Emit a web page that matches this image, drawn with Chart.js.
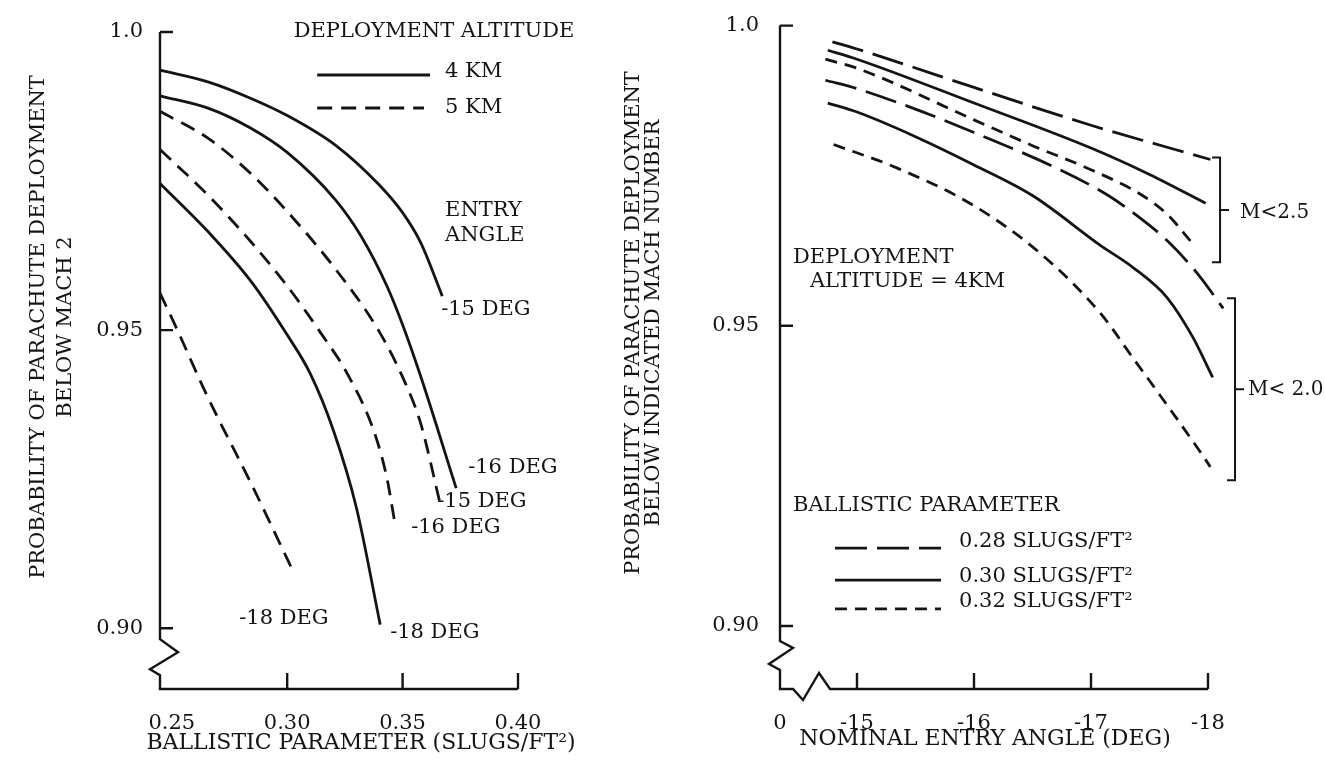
<!DOCTYPE html>
<html>
<head>
<meta charset="utf-8">
<title>Parachute deployment probability</title>
<script src="https://cdn.jsdelivr.net/npm/chart.js"></script>
<style>
  body { margin: 0; background: #fff; }
  canvas { position: absolute; top: 0; }
  #chartLeft { left: 0; }
  #chartRight { left: 600px; }
</style>
</head>
<body>
<canvas id="chartLeft" width="600" height="763"></canvas>
<canvas id="chartRight" width="725" height="763"></canvas>
<script>
// ---- values ----
// left: probability below Mach 2 vs ballistic parameter, [slugs/ft^2, probability]
const km4Deg15 = [[0.2449, 0.9936], [0.2660, 0.9916], [0.2841, 0.9889], [0.30, 0.9860], [0.3210, 0.9810], [0.3395, 0.9745], [0.35, 0.9697], [0.3578, 0.9647], [0.3672, 0.9557]];
const km4Deg16 = [[0.2449, 0.9893], [0.2660, 0.9872], [0.2841, 0.9839], [0.30, 0.9798], [0.3210, 0.9718], [0.3321, 0.9657], [0.3432, 0.9574], [0.35, 0.9509], [0.3578, 0.9423], [0.3732, 0.9235]];
const km4Deg18 = [[0.2449, 0.9746], [0.2660, 0.9664], [0.2841, 0.9583], [0.30, 0.9492], [0.31, 0.9427], [0.32, 0.9332], [0.33, 0.9202], [0.3403, 0.9006]];
const km5Deg15 = [[0.2449, 0.9867], [0.2660, 0.9821], [0.2841, 0.9763], [0.30, 0.9699], [0.3210, 0.9602], [0.3395, 0.9500], [0.3505, 0.9417], [0.3578, 0.9344], [0.3662, 0.9210]];
const km5Deg16 = [[0.2449, 0.9803], [0.2660, 0.9725], [0.2841, 0.9649], [0.30, 0.9574], [0.3137, 0.9500], [0.3266, 0.9423], [0.3377, 0.9329], [0.3432, 0.9252], [0.3464, 0.9182]];
const km5Deg18 = [[0.2449, 0.9562], [0.2528, 0.9497], [0.2580, 0.9452], [0.2636, 0.9404], [0.2697, 0.9355], [0.2841, 0.9245], [0.3020, 0.9100]];

// right: probability below indicated Mach number vs nominal entry angle, [deg, probability]
const m25Bp28 = [[-14.79, 0.9973], [-15, 0.9961], [-16, 0.9897], [-17, 0.9834], [-18.02, 0.9777]];
const m25Bp30 = [[-14.75, 0.9959], [-15, 0.9944], [-16, 0.9871], [-17, 0.9796], [-17.5, 0.9752], [-17.98, 0.9704]];
const m25Bp32 = [[-14.73, 0.9944], [-15, 0.9929], [-16, 0.9843], [-16.5, 0.9800], [-17, 0.9760], [-17.44, 0.9717], [-17.65, 0.9686], [-17.86, 0.9639]];
const m20Bp28 = [[-14.73, 0.9909], [-15, 0.9895], [-16, 0.9822], [-17.08, 0.9725], [-17.39, 0.9684], [-17.65, 0.9642], [-17.91, 0.9587], [-18.13, 0.9529]];
const m20Bp30 = [[-14.75, 0.9871], [-15, 0.9856], [-15.5, 0.9815], [-16, 0.9768], [-16.5, 0.9717], [-17.08, 0.9634], [-17.36, 0.9597], [-17.65, 0.9547], [-17.87, 0.9481], [-18.04, 0.9414]];
const m20Bp32 = [[-14.80, 0.9802], [-15.34, 0.9763], [-16, 0.9700], [-16.57, 0.9620], [-17.08, 0.9521], [-17.36, 0.9446], [-17.65, 0.9368], [-17.93, 0.9291], [-18.02, 0.9265]];

// tick values and labels
const leftXTicks = [0.25, 0.30, 0.35, 0.40];
const leftXLabels = ['0.25', '0.30', '0.35', '0.40'];
const rightXTicks = [-14.342, -15, -16, -17, -18]; // first one is the broken origin, labelled 0
const rightXLabels = ['0', '-15', '-16', '-17', '-18'];
const yTicks = [1.0, 0.95, 0.90];
const yLabels = ['1.0', '0.95', '0.90'];

const INK = '#141414';
const FONT = '"DejaVu Serif", "Liberation Serif", serif';
const DASH_5KM = [15, 9];
const DASH_LONG = [32, 10];
const DASH_SHORT = [12, 8];

function curve(points, dash) {
    return {
        data: points.map(([x, y]) => ({ x, y })),
        borderColor: INK,
        borderWidth: 2.8,
        borderDash: dash || [],
        pointRadius: 0,
        cubicInterpolationMode: 'monotone',
        fill: false,
        clip: false
    };
}

function yScale(min, width, pad) {
    return {
        type: 'linear', position: 'left', min: min, max: 1.0,
        grid: { display: false }, border: { display: false },
        afterBuildTicks: s => { s.ticks = yTicks.map(v => ({ value: v })); },
        afterFit: s => { s.width = width; },
        ticks: { callback: (v, i) => yLabels[i], color: INK, font: { family: FONT, size: 21 }, padding: pad }
    };
}

function xScale(min, max, reverse, ticks, labels) {
    return {
        type: 'linear', min: min, max: max, reverse: reverse,
        grid: { display: false }, border: { display: false },
        afterBuildTicks: s => { s.ticks = ticks.map(v => ({ value: v })); },
        afterFit: s => { s.height = 74; },
        ticks: { callback: (v, i) => labels[i], color: INK, font: { family: FONT, size: 21 }, padding: 14, autoSkip: false, maxRotation: 0 }
    };
}

// axes with break marks, inner ticks, legend samples, brackets and texts
const sketch = {
    id: 'sketch',
    afterDraw(chart, args, o) {
        const { ctx, chartArea: a, scales: { x, y } } = chart;
        const px = v => x.getPixelForValue(v);
        const py = v => y.getPixelForValue(v);
        ctx.save();
        ctx.strokeStyle = INK;
        ctx.fillStyle = INK;
        ctx.lineWidth = 2.4;
        ctx.lineJoin = 'miter';

        const y90 = py(0.90);
        ctx.beginPath();
        ctx.moveTo(a.left, a.top);
        o.yBreak.forEach(([dx, dy]) => ctx.lineTo(a.left + dx, y90 + dy));
        ctx.lineTo(a.left, a.bottom);
        o.xBreak.forEach(([dx, dy]) => ctx.lineTo(a.left + dx, a.bottom + dy));
        ctx.lineTo(a.right, a.bottom);
        yTicks.forEach(v => { ctx.moveTo(a.left, py(v)); ctx.lineTo(a.left + o.yTickLen, py(v)); });
        o.xTicks.forEach(v => { ctx.moveTo(px(v), a.bottom); ctx.lineTo(px(v), a.bottom - 16); });
        ctx.stroke();

        ctx.lineWidth = 2.8;
        o.samples.forEach(s => {
            ctx.beginPath();
            ctx.setLineDash(s.dash);
            ctx.moveTo(px(s.x0), py(s.y));
            ctx.lineTo(px(s.x1), py(s.y));
            ctx.stroke();
        });
        ctx.setLineDash([]);

        ctx.lineWidth = 2;
        (o.brackets || []).forEach(b => {
            const bx = px(b.x), y0 = py(b.y0), y1 = py(b.y1), ym = (y0 + y1) / 2;
            ctx.beginPath();
            ctx.moveTo(bx - 8, y0); ctx.lineTo(bx, y0); ctx.lineTo(bx, y1); ctx.lineTo(bx - 8, y1);
            ctx.moveTo(bx, ym); ctx.lineTo(bx + 9, ym);
            ctx.stroke();
        });

        ctx.textBaseline = 'middle';
        o.notes.forEach(n => {
            ctx.font = (n.size || 21) + 'px ' + FONT;
            ctx.textAlign = 'left';
            ctx.fillText(n.text, px(n.at[0]), py(n.at[1]));
        });

        o.titles.forEach(t => {
            ctx.save();
            ctx.translate(t.x, t.y);
            if (t.rot) ctx.rotate(t.rot);
            ctx.font = t.size + 'px ' + FONT;
            ctx.textAlign = 'center';
            ctx.fillText(t.text, 0, 0);
            ctx.restore();
        });
        ctx.restore();
    }
};

function baseOptions(pad, scales, sketchOpts) {
    return {
        responsive: false,
        animation: false,
        events: [],
        layout: { padding: pad },
        scales: scales,
        plugins: { legend: { display: false }, tooltip: { enabled: false }, sketch: sketchOpts }
    };
}

new Chart(document.getElementById('chartLeft'), {
    type: 'line',
    data: {
        datasets: [
            curve(km4Deg15), curve(km4Deg16), curve(km4Deg18),
            curve(km5Deg15, DASH_5KM), curve(km5Deg16, DASH_5KM), curve(km5Deg18, DASH_5KM)
        ]
    },
    options: baseOptions({ left: 0, top: 32, right: 82, bottom: 0 }, {
        x: xScale(0.2449, 0.40, false, leftXTicks, leftXLabels),
        y: yScale(0.8898, 160, 9)
    }, {
        yBreak: [[0, 11], [18, 24], [-10, 41], [0, 47]],
        xBreak: [],
        yTickLen: 13,
        xTicks: [0.30, 0.35, 0.40],
        samples: [
            { x0: 0.3130, x1: 0.3619, y: 0.99279, dash: [] },
            { x0: 0.3130, x1: 0.3593, y: 0.98725, dash: DASH_5KM }
        ],
        notes: [
            { text: 'DEPLOYMENT ALTITUDE', at: [0.3028, 1.0] },
            { text: '4 KM', at: [0.3684, 0.9933] },
            { text: '5 KM', at: [0.3684, 0.9874] },
            { text: 'ENTRY', at: [0.3684, 0.9701] },
            { text: 'ANGLE', at: [0.3684, 0.9659] },
            { text: '-15 DEG', at: [0.3667, 0.9534] },
            { text: '-16 DEG', at: [0.3784, 0.9270] },
            { text: '-15 DEG', at: [0.3650, 0.9213] },
            { text: '-16 DEG', at: [0.3537, 0.9168] },
            { text: '-18 DEG', at: [0.3446, 0.8992] },
            { text: '-18 DEG', at: [0.2792, 0.9017] }
        ],
        titles: [
            { text: 'BALLISTIC PARAMETER (SLUGS/FT²)', x: 361, y: 743, size: 22 },
            { text: 'PROBABILITY OF PARACHUTE DEPLOYMENT', x: 39, y: 327, size: 21, rot: -Math.PI / 2 },
            { text: 'BELOW MACH 2', x: 66, y: 327, size: 21, rot: -Math.PI / 2 }
        ]
    }),
    plugins: [sketch]
});

new Chart(document.getElementById('chartRight'), {
    type: 'line',
    data: {
        datasets: [
            curve(m25Bp28, DASH_LONG), curve(m25Bp30), curve(m25Bp32, DASH_SHORT),
            curve(m20Bp28, DASH_LONG), curve(m20Bp30), curve(m20Bp32, DASH_SHORT)
        ]
    },
    options: baseOptions({ left: 0, top: 25, right: 117, bottom: 0 }, {
        x: xScale(-18, -14.342, true, rightXTicks, rightXLabels),
        y: yScale(0.8895, 180, 13)
    }, {
        yBreak: [[0, 15], [13, 22], [-11, 38], [0, 44]],
        xBreak: [[13, 0], [23, 11], [39, -16], [50, 0]],
        yTickLen: 13,
        xTicks: [-15, -16, -17, -18],
        samples: [
            { x0: -14.812, x1: -15.718, y: 0.91298, dash: DASH_LONG },
            { x0: -14.812, x1: -15.718, y: 0.90765, dash: [] },
            { x0: -14.812, x1: -15.718, y: 0.90283, dash: DASH_SHORT }
        ],
        brackets: [
            { x: -18.103, y0: 0.97804, y1: 0.96057 },
            { x: -18.231, y0: 0.95458, y1: 0.92429 }
        ],
        notes: [
            { text: 'DEPLOYMENT', at: [-14.453, 0.9614] },
            { text: 'ALTITUDE = 4KM', at: [-14.598, 0.9574] },
            { text: 'BALLISTIC PARAMETER', at: [-14.453, 0.9201] },
            { text: '0.28 SLUGS/FT²', at: [-15.872, 0.9141] },
            { text: '0.30 SLUGS/FT²', at: [-15.872, 0.9082] },
            { text: '0.32 SLUGS/FT²', at: [-15.872, 0.9040] },
            { text: 'M<2.5', at: [-18.274, 0.9689], size: 20 },
            { text: 'M< 2.0', at: [-18.342, 0.9393], size: 20 }
        ],
        titles: [
            { text: 'NOMINAL ENTRY ANGLE (DEG)', x: 385, y: 739, size: 22 },
            { text: 'PROBABILITY OF PARACHUTE DEPLOYMENT', x: 34, y: 323, size: 21, rot: -Math.PI / 2 },
            { text: 'BELOW INDICATED MACH NUMBER', x: 54, y: 323, size: 21, rot: -Math.PI / 2 }
        ]
    }),
    plugins: [sketch]
});
</script>
</body>
</html>
